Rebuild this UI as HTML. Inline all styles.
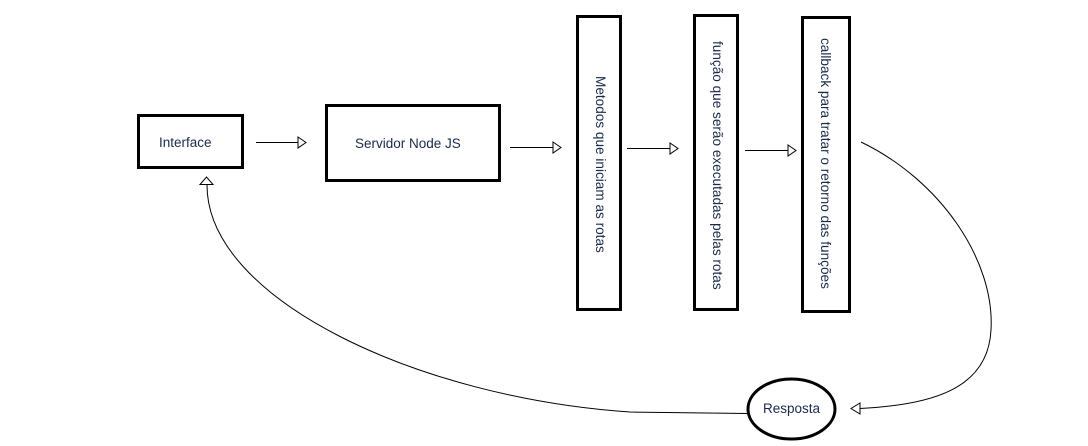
<!DOCTYPE html>
<html><head><meta charset="utf-8"><style>
html,body{margin:0;padding:0;background:#fff;}
body{width:1088px;height:446px;position:relative;overflow:hidden;font-family:"Liberation Sans",sans-serif;}
.t{position:absolute;font-size:13.5px;color:#1a2a4a;white-space:nowrap;}
.v{position:absolute;font-size:13.6px;color:#1a2a4a;white-space:nowrap;transform-origin:0 0;transform:rotate(90deg);}
</style></head><body>
<svg width="1088" height="446" style="position:absolute;left:0;top:0" xmlns="http://www.w3.org/2000/svg">
<g fill="none" stroke="#000" stroke-width="3">
<rect x="138.5" y="115.5" width="104" height="52"/>
<rect x="326.5" y="105.5" width="173" height="75"/>
<rect x="577.5" y="16.5" width="43" height="293"/>
<rect x="694.5" y="15.5" width="43" height="294"/>
<rect x="802.5" y="17.5" width="47" height="294"/>
<ellipse cx="791.5" cy="409" rx="43.5" ry="30"/>
</g>
<g fill="none" stroke="#000" stroke-width="1">
<line x1="256" y1="142.5" x2="298" y2="142.5"/>
<polygon points="298,137 306,142.5 298,148" fill="#fff"/>
<line x1="510" y1="147.5" x2="553" y2="147.5"/>
<polygon points="553,142 561,147.5 553,153" fill="#fff"/>
<line x1="627" y1="148.5" x2="670" y2="148.5"/>
<polygon points="670,143 678,148.5 670,154" fill="#fff"/>
<line x1="745" y1="150.5" x2="788" y2="150.5"/>
<polygon points="788,145 796,150.5 788,156" fill="#fff"/>
<path d="M861,142 C940,180 995,260 991,330 C988,390 930,405 860,408.5"/>
<polygon points="860,403 851,408.5 860,414" fill="#fff"/>
<path d="M747,413.5 L630,412 C420,398 207,300 207,185"/>
<polygon points="200,184.5 206.5,177 213,184.5" fill="#fff"/>
</g>
</svg>
<div class="t" style="left:159px;top:135px;">Interface</div>
<div class="t" style="left:355px;top:136px;">Servidor Node JS</div>
<div class="v" style="left:608px;top:76px;">Metodos que iniciam as rotas</div>
<div class="v" style="left:725px;top:41px;">função que serão executadas pelas rotas</div>
<div class="v" style="left:833px;top:38px;">callback para tratar o retorno das funções</div>
<div class="t" style="left:763px;top:401px;">Resposta</div>
</body></html>
